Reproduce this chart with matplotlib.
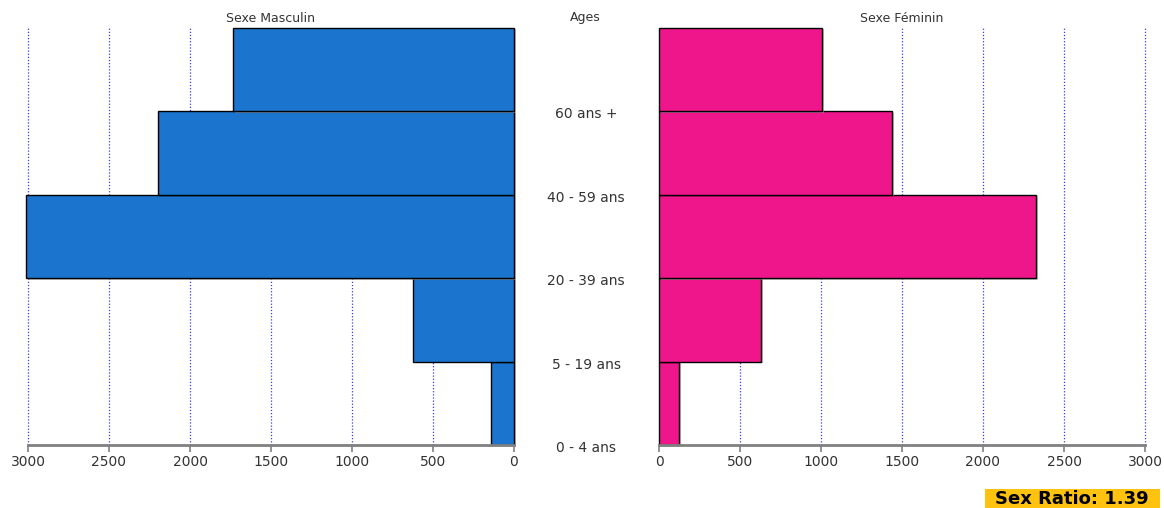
import matplotlib
matplotlib.use("Agg")
import matplotlib.pyplot as plt
import matplotlib.transforms as mtransforms
import matplotlib.patheffects as pe
from matplotlib.patches import Rectangle

# ---- data ----
age_groups = ["0 - 4 ans", "5 - 19 ans", "20 - 39 ans", "40 - 59 ans", "60 ans +"]
male = [142, 623, 3015, 2195, 1733]
female = [123, 630, 2328, 1438, 1006]
ticks = [0, 500, 1000, 1500, 2000, 2500, 3000]
sex_ratio_text = "Sex Ratio: 1.39"

W, H = 1164, 508
fig = plt.figure(figsize=(W / 100, H / 100), dpi=100)
plt.rcParams['font.family'] = ['DejaVu Sans']

blue = "#1b74cd"
pink = "#ee168a"
grid_c = "#3a3af0"
axis_c = "#808080"
text_c = "#333333"

y0, y1 = 63 / H, 480 / H
axL = fig.add_axes([28 / W, y0, 486 / W, y1 - y0])
axR = fig.add_axes([659 / W, y0, 486 / W, y1 - y0])

pos = list(range(len(age_groups)))
shadow = [pe.SimplePatchShadow(offset=(1.5, -1), shadow_rgbFace="#999999", alpha=0.6), pe.Normal()]

for ax, vals, col in [(axL, male, blue), (axR, female, pink)]:
    bars = ax.barh(pos, vals, height=1.0, color=col, edgecolor="black", linewidth=1.0,
                   zorder=3, path_effects=shadow)
    for b in bars:
        b.set_clip_on(False)
    ax.set_xlim(0, 3000)
    ax.set_ylim(-0.5, len(age_groups) - 0.5)
    for t in ticks[1:]:
        ax.axvline(t, color=grid_c, linestyle=(0, (1, 1.5)), linewidth=0.9, zorder=1,
                   clip_on=False)
    ax.set_xticks(ticks)
    ax.set_xticklabels([str(t) for t in ticks])
    ax.tick_params(axis="x", colors=axis_c, length=5, width=1.2, labelsize=10,
                   labelcolor=text_c, pad=2)
    ax.set_yticks([])
    for s in ["top", "left", "right"]:
        ax.spines[s].set_visible(False)
    ax.spines["bottom"].set_color(axis_c)
    ax.spines["bottom"].set_linewidth(2)
    ax.spines["bottom"].set_zorder(4)
    ax.set_facecolor("none")

axL.invert_xaxis()

# titles
fig.text(271 / W, 1 - 18 / H, "Sexe Masculin", ha="center", va="center", fontsize=9, color=text_c)
fig.text(902 / W, 1 - 18 / H, "Sexe Féminin", ha="center", va="center", fontsize=9, color=text_c)
fig.text(585 / W, 1 - 18 / H, "Ages", ha="center", va="center", fontsize=9, color=text_c)

# age labels at bar lower edges
trans = mtransforms.blended_transform_factory(fig.transFigure, axL.transData)
trans = trans + mtransforms.ScaledTranslation(0, -3 / 100, fig.dpi_scale_trans)
for i, lab in enumerate(age_groups):
    fig.text(586 / W, i - 0.5, lab, transform=trans, ha="center", va="center",
             fontsize=10, color=text_c)

fig.add_artist(Rectangle((985 / W, 0), 175 / W, 19 / H, transform=fig.transFigure,
                         facecolor="#ffc20e", edgecolor="none"))
fig.text(1072 / W, 9.5 / H, sex_ratio_text, ha="center", va="center", fontsize=13,
         fontweight="heavy", color="black")

fig.savefig("out.png", dpi=100, facecolor="white")
